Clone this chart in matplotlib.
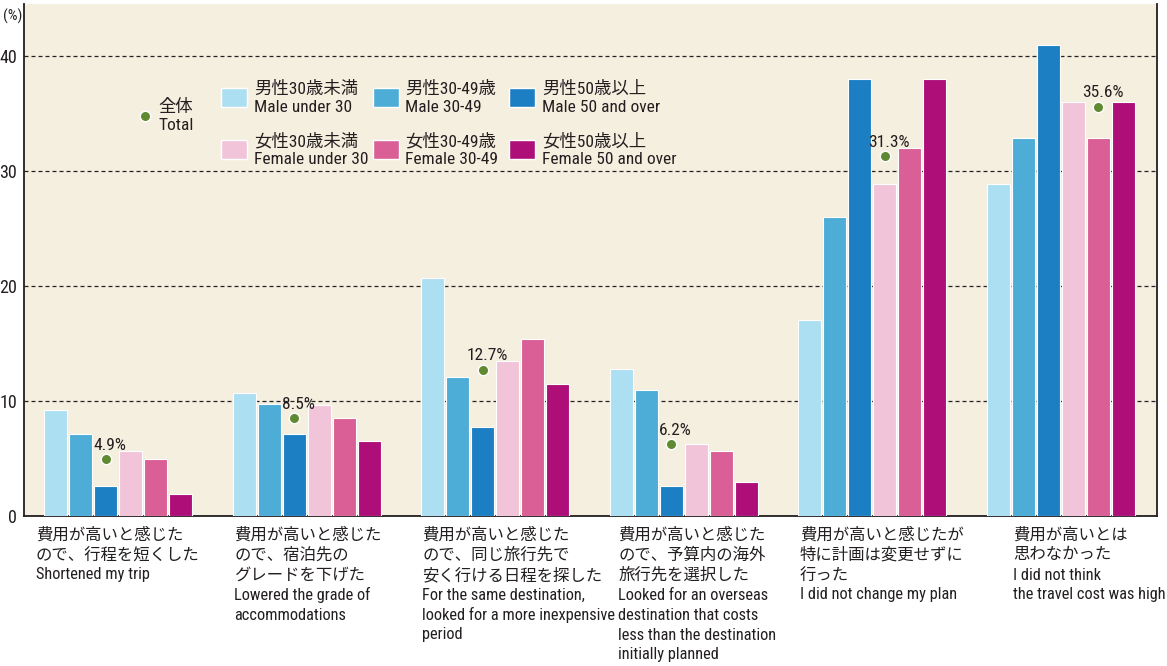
import matplotlib
matplotlib.use("Agg")
import matplotlib.pyplot as plt
import numpy as np
from matplotlib.patches import Rectangle
from matplotlib.lines import Line2D
import matplotlib.transforms as mtransforms

FONTS = ['Roboto Condensed', 'Noto Sans CJK JP', 'DejaVu Sans']
plt.rcParams['font.family'] = FONTS

# ---------------- data ----------------
categories = [
    ["費用が高いと感じた", "ので、行程を短くした", "Shortened my trip"],
    ["費用が高いと感じた", "ので、宿泊先の", "グレードを下げた", "Lowered the grade of", "accommodations"],
    ["費用が高いと感じた", "ので、同じ旅行先で", "安く行ける日程を探した", "For the same destination,",
     "looked for a more inexpensive", "period"],
    ["費用が高いと感じた", "ので、予算内の海外", "旅行先を選択した", "Looked for an overseas",
     "destination that costs", "less than the destination", "initially planned"],
    ["費用が高いと感じたが", "特に計画は変更せずに", "行った", "I did not change my plan"],
    ["費用が高いとは", "思わなかった", "I did not think", "the travel cost was high"],
]
series_names = [
    ("男性30歳未満", "Male under 30"),
    ("男性30-49歳", "Male 30-49"),
    ("男性50歳以上", "Male 50 and over"),
    ("女性30歳未満", "Female under 30"),
    ("女性30-49歳", "Female 30-49"),
    ("女性50歳以上", "Female 50 and over"),
]
male_u30 = [9.2, 10.7, 20.7, 12.8, 17.0, 28.9]
male_30_49 = [7.1, 9.7, 12.1, 10.9, 26.0, 32.9]
male_50 = [2.6, 7.1, 7.7, 2.6, 38.0, 41.0]
female_u30 = [5.6, 9.6, 13.5, 6.2, 28.9, 36.0]
female_30_49 = [4.9, 8.5, 15.4, 5.6, 32.0, 32.9]
female_50 = [1.9, 6.5, 11.5, 2.9, 38.0, 36.0]
total = [4.9, 8.5, 12.7, 6.2, 31.3, 35.6]
total_name = ("全体", "Total")
yticks = [0, 10, 20, 30, 40]

series = [male_u30, male_30_49, male_50, female_u30, female_30_49, female_50]

# ---------------- style / layout ----------------
colors = ['#addff2', '#4dadd7', '#1c7ec3', '#f2c4da', '#d95f96', '#ae0e78']
bg = '#f5efe0'
dot_color = '#5f8a31'
txt_color = '#231f20'
W, H = 1167, 666

fig = plt.figure(figsize=(W / 100, H / 100), dpi=100)
ax = fig.add_axes([24.3 / W, 1 - 515.7 / H, (1157 - 24.3) / W, (515.7 - 4) / H])
ax.set_facecolor(bg)

x = np.arange(len(categories))
pitch = 0.1326
bw = 0.121
for i, vals in enumerate(series):
    ax.bar(x + (i - 2.5) * pitch, vals, width=bw, color=colors[i],
           edgecolor='white', linewidth=0.8, zorder=3)

# total dots (placed above a short bar in each group)
dot_slot = [2, 2, 2, 2, 3, 4]
dx = np.array([(s - 2.5) * pitch for s in dot_slot])
ax.plot(x + dx, total, 'o', color=dot_color, markersize=7.5,
        markeredgecolor='white', markeredgewidth=1.0, zorder=5, linestyle='none')
for xi, v in zip(x + dx, total):
    ax.annotate(f"{v:.1f}%", (xi, v), xytext=(3, 10), textcoords='offset points',
                ha='center', va='center', fontsize=12.5, color=txt_color, zorder=6)

ax.set_xlim(-0.499, 5.510)
ax.set_ylim(0, 44.53)
ax.set_yticks(yticks)
ax.set_yticklabels([str(t) for t in yticks], fontsize=13, color=txt_color)
ax.tick_params(axis='y', length=0, pad=5)
ax.set_xticks([])
ax.yaxis.grid(True, color='#222222', linestyle=(0, (3.2, 2.4)), linewidth=0.9)
ax.set_axisbelow(True)
for s in ['left', 'bottom', 'right']:
    ax.spines[s].set_color(txt_color)
    ax.spines[s].set_linewidth(1.3)
ax.spines['top'].set_visible(False)

fig.text(3 / W, 1 - 16 / H, "(%)", fontsize=11, ha='left', va='center', color=txt_color)

# category labels
label_dx = [-0.439, -0.386, -0.389, -0.349, -0.384, -0.254]
trans = mtransforms.blended_transform_factory(ax.transData, fig.transFigure)
for gi, lines in enumerate(categories):
    for li, line in enumerate(lines):
        ypx = 535 + 20 * li
        ax.text(x[gi] + label_dx[gi], 1 - ypx / H, line, transform=trans,
                ha='left', va='center', fontsize=11.8, color=txt_color, clip_on=False)

# legend
fig.add_artist(Line2D([145 / W], [1 - 116 / H], marker='o', color=dot_color, markersize=7.5,
                      markeredgecolor='white', markeredgewidth=1.0, transform=fig.transFigure))
fig.text(158 / W, 1 - 107 / H, total_name[0], fontsize=12.5, ha='left', va='center', color=txt_color)
fig.text(158 / W, 1 - 126 / H, total_name[1], fontsize=12.5, ha='left', va='center', color=txt_color)

col_patch_x = [221, 373, 509]
col_text_x = [254, 405, 542]
row_patch_y = [97, 149]
for i, (jp, en) in enumerate(series_names):
    c = i % 3
    r = i // 3
    px, py = col_patch_x[c], row_patch_y[r]
    fig.add_artist(Rectangle((px / W, 1 - (py + 9.5) / H), 26 / W, 19 / H,
                             facecolor=colors[i], edgecolor='white', linewidth=1.0,
                             transform=fig.transFigure))
    fig.text(col_text_x[c] / W, 1 - (py - 8) / H, jp, fontsize=12.5, ha='left', va='center',
             color=txt_color)
    fig.text(col_text_x[c] / W, 1 - (py + 11) / H, en, fontsize=12.5, ha='left', va='center',
             color=txt_color)

fig.savefig("out.png", dpi=100, facecolor='white')
